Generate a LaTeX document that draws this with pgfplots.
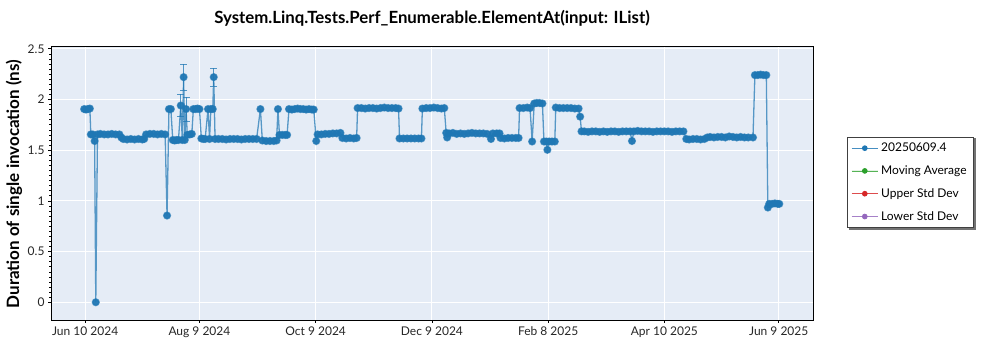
\documentclass[border=0pt]{standalone}
\usepackage{pgfplots}
\pgfplotsset{compat=1.18}
\usepackage{fontspec}
\setmainfont{Lato}
\usetikzlibrary{backgrounds}
\definecolor{cblue}{HTML}{1F77B4}
\definecolor{cgreen}{HTML}{2CA02C}
\definecolor{cred}{HTML}{D62728}
\definecolor{cpurple}{HTML}{9467BD}
\definecolor{plotbg}{HTML}{E5ECF6}
\begin{document}
\begin{tikzpicture}[x=1pt,y=1pt]
\useasboundingbox (0,0) rectangle (1000,350);
\node[font=\fontsize{16.8}{19}\selectfont\bfseries] at (432,332) {System.Linq.Tests.Perf\_Enumerable.ElementAt(input: IList)};
\node[rotate=90,font=\fontsize{17}{20}\selectfont\bfseries] at (14,166) {Duration of single invocation (ns)};
\begin{axis}[
  at={(51pt,30pt)}, anchor=south west,
  width=762pt, height=274pt, scale only axis,
  xmin=-17.9, xmax=382, ymin=-0.175, ymax=2.527,
  axis background/.style={fill=plotbg},
  axis line style={black, line width=0.9pt},
  grid=major, major grid style={white, line width=1pt},
  xtick={0,60,121,182,243,304,364},
  xticklabels={Jun 10 2024, Aug 9 2024, Oct 9 2024, Dec 9 2024, Feb 8 2025, Apr 10 2025, Jun 9 2025},
  ytick={0,0.5,1,1.5,2,2.5},
  yticklabels={0,0.5,1,1.5,2,2.5},
  minor y tick num=9,
  tick align=outside, tick pos=left,
  major tick length=3pt, minor tick length=2pt,
  tick style={black, line width=0.6pt},
  ticklabel style={font=\fontsize{12}{14}\selectfont, text=black!85},
  /pgf/number format/assume math mode=true,
  legend style={
    name=leg,
    at={(1.0446,0.669)}, anchor=north west,
    draw=black!75, line width=0.8pt, fill=white,
    font=\fontsize{12}{14}\selectfont,
    inner xsep=4pt, inner ysep=4.5pt,
    row sep=9.5pt,
    nodes={inner ysep=1.5pt, inner xsep=3pt},
  },
  legend cell align=left,
  legend image code/.code={
    \draw[#1, line width=0.8pt, draw opacity=0.8] (0pt,0pt) -- (26pt,0pt);
    \fill[#1] (13pt,0pt) circle (2.4pt);
  },
]
\addlegendimage{draw=cblue, fill=cblue}
\addlegendentry{20250609.4}
\addlegendimage{draw=cgreen, fill=cgreen}
\addlegendentry{Moving Average}
\addlegendimage{draw=cred, fill=cred}
\addlegendentry{Upper Std Dev}
\addlegendimage{draw=cpurple, fill=cpurple}
\addlegendentry{Lower Std Dev}
\addplot[forget plot, color=cblue, line width=1.3pt, draw opacity=0.72, mark=*, mark size=3.4pt, mark options={draw=none, fill=cblue, fill opacity=0.95}] coordinates {
(-0.5,1.905)(0.5,1.9)(1.5,1.905)(2.5,1.91)
(3,1.655)(4,1.655)(5,1.59)(5.6,0)(6.5,1.655)(8,1.66)(10,1.655)(12,1.655)(14,1.66)(16,1.655)(18,1.655)
(19,1.625)(20,1.61)(22,1.605)(24,1.61)(26,1.605)(28,1.61)(30,1.605)(31,1.61)
(32,1.655)(34,1.66)(36,1.66)(38,1.655)(40,1.66)(42,1.655)(43,0.855)
(44,1.905)(45,1.905)(46,1.60)(47,1.595)(48,1.60)(49,1.60)(50.2,1.94)(51,1.60)(51.7,2.22)(52.3,1.60)(53,1.905)(53.6,1.65)(55,1.655)(56,1.66)(56.8,1.905)(58,1.905)(59,1.91)(60,1.905)
(61,1.615)(62,1.61)(63,1.61)(64.5,1.905)(65.3,1.61)(66,1.905)(67,1.905)(67.5,2.22)(68.2,1.61)
(70,1.61)(72,1.61)(74,1.605)(76,1.61)(78,1.61)(80,1.61)(82,1.605)(84,1.61)(86,1.61)(88,1.61)(90,1.61)(92,1.905)
(93,1.595)(95,1.59)(97,1.59)(99,1.59)(100.5,1.595)(101.2,1.905)
(102,1.65)(103.5,1.65)(105,1.65)(106,1.65)
(107,1.905)(108.5,1.9)(110,1.905)(111.5,1.91)(113,1.905)(114.5,1.905)(116,1.9)(117.5,1.905)(119,1.9)(120,1.9)
(121.3,1.59)
(122,1.655)(124,1.655)(126,1.66)(128,1.66)(130,1.665)(132,1.665)(134,1.67)
(135,1.62)(137,1.615)(139,1.62)(141,1.615)(142.5,1.62)
(143,1.915)(145,1.915)(147,1.91)(149,1.915)(151,1.915)(153,1.91)(155,1.915)(157,1.92)(159,1.915)(161,1.915)(163,1.915)(164.5,1.91)
(165,1.615)(167,1.615)(169,1.615)(171,1.615)(173,1.615)(175,1.615)(176.5,1.615)
(177,1.91)(179,1.915)(181,1.915)(183,1.92)(185,1.915)(187,1.91)(188.5,1.915)
(189.5,1.67)(190,1.625)(191,1.665)(193,1.67)(195,1.66)(197,1.665)(199,1.66)(201,1.665)(203,1.67)(205,1.665)(207,1.665)(209,1.665)(211,1.66)(213,1.61)(214,1.665)(216,1.665)(217.5,1.665)
(218,1.62)(220,1.615)(222,1.62)(224,1.62)(226,1.62)(227.5,1.62)
(228,1.915)(230,1.915)(232,1.92)(233.5,1.915)(234.6,1.585)(235.7,1.96)(237,1.965)(238.5,1.965)(240,1.96)(240.8,1.585)(242,1.585)(242.6,1.503)(243.5,1.585)(245,1.585)(246.5,1.585)
(247,1.92)(249,1.915)(251,1.915)(253,1.915)(255,1.915)(257,1.91)(259,1.91)(259.8,1.83)(260.5,1.685)
(262,1.685)(264,1.68)(266,1.685)(268,1.685)(270,1.68)(272,1.685)(274,1.68)(276,1.685)(278,1.685)(280,1.68)(282,1.685)(284,1.685)(286,1.685)(287,1.59)(288,1.685)(290,1.69)(292,1.685)(294,1.685)(296,1.685)(298,1.68)(300,1.685)(302,1.685)(304,1.685)(306,1.685)(308,1.68)(310,1.685)(312,1.685)(314,1.685)
(315.5,1.61)(317,1.605)(319,1.61)(321,1.61)(323,1.605)(325,1.61)
(326.5,1.625)(328,1.63)(330,1.625)(332,1.63)(334,1.63)(336,1.625)(338,1.635)(340,1.63)(342,1.625)(344,1.63)(346,1.625)(348,1.625)(350.5,1.625)
(351.5,2.24)(353,2.24)(354.5,2.245)(356,2.24)(357.5,2.24)(358.3,0.934)(359,0.97)(360.5,0.97)(362,0.975)(363.5,0.97)(364.3,0.97)
};
\addplot[draw=none, mark=none, forget plot,
  error bars/.cd, y dir=both, y explicit,
  error bar style={cblue, line width=0.8pt, opacity=0.75},
  error mark options={cblue, line width=0.8pt, mark size=3.5pt, rotate=90}] coordinates {
(50.2,1.94) +- (0,0.11)
(51.7,2.22) +- (0,0.13)
(53,1.905) +- (0,0.12)
(67.5,2.22) +- (0,0.09)
};
\end{axis}
\begin{scope}[on background layer]
\fill[black!55] ([xshift=1.8pt,yshift=-1.8pt]leg.south west) rectangle ([xshift=1.8pt,yshift=-1.8pt]leg.north east);
\end{scope}
\end{tikzpicture}
\end{document}
